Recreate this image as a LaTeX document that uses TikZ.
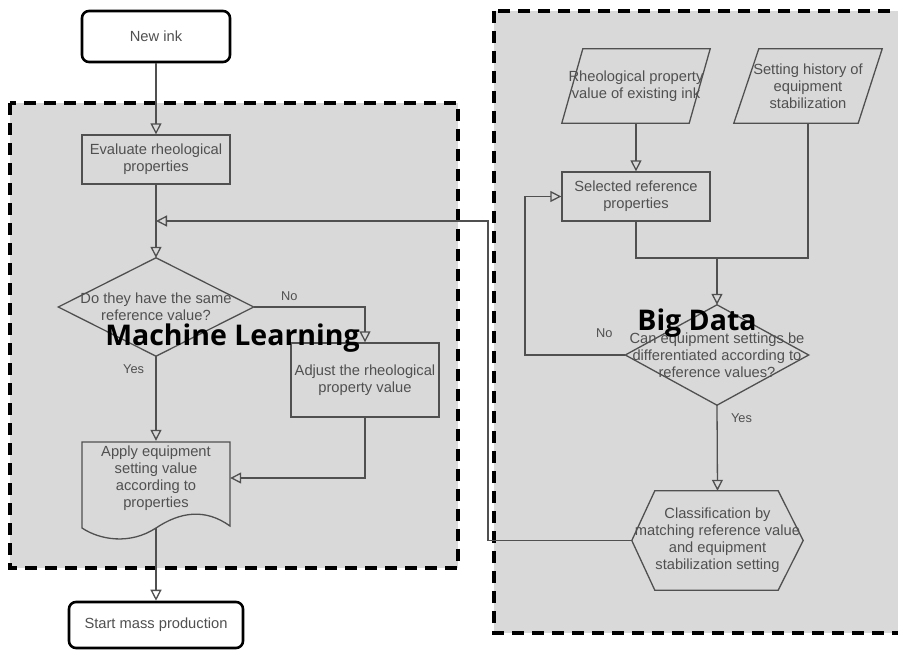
\documentclass[tikz,border=0pt]{standalone}
\usepackage{fontspec}
\setmainfont{Liberation Sans}
\newfontfamily\tagfont{Open Sans}
\usetikzlibrary{arrows.meta}
\definecolor{panelgray}{HTML}{D9D9D9}
\definecolor{linegray}{HTML}{505050}
\definecolor{textgray}{HTML}{505050}

\begin{document}
\begin{tikzpicture}[x=1pt, y=-1pt,
  panel/.style={fill=panelgray, draw=black, line width=3.2pt, dash pattern=on 12pt off 8pt},
  txt/.style={font=\fontsize{14.7}{17}\selectfont, text=textgray, align=center, inner sep=0pt},
  proc/.style={txt, draw=linegray, line width=1.3pt, minimum width=148pt, minimum height=49pt},
  term/.style={txt, draw=black, fill=white, line width=2.6pt, rounded corners=7pt},
  shapeline/.style={draw=linegray, line width=1.3pt},
  link/.style={linegray, line width=1.3pt},
  flow/.style={link, -{Triangle[open, length=11pt, width=11pt]}},
  answer/.style={font=\fontsize{12.8}{15}\selectfont, text=textgray},
  tag/.style={font=\tagfont\bfseries\fontsize{28.5}{32}\selectfont, text=black, anchor=base}]
  \useasboundingbox (0,0) rectangle (898,650);
  \clip (0,0) rectangle (898,650);

  % Panels
  \draw[panel] (10,103) rectangle (458,568);
  \draw[panel] (494,11) rectangle (910,633);

  % Machine learning side
  \node[term, minimum width=148pt, minimum height=51pt] (newink) at (156,36.5) {New ink};
  \node[proc] (evaluate) at (156,159.5) {Evaluate rheological\\properties};
  \node[txt, minimum width=195pt, minimum height=98pt] (same) at (156,307) {Do they have the same\\reference value?};
  \draw[shapeline] (same.north) -- (same.east) -- (same.south) -- (same.west) -- cycle;
  \node[proc, minimum height=74pt] (adjust) at (365,380) {Adjust the rheological\\property value};
  \node[txt, minimum width=148pt, minimum height=74pt] (apply) at (156,478) {Apply equipment\\setting value\\according to\\properties};
  \draw[shapeline] (82,528) -- (82,442) -- (230,442) -- (230,526)
    .. controls (205,508) and (180,512) .. (156,528)
    .. controls (130,545) and (100,540) .. (82,528) -- cycle;
  \coordinate (applybot) at (156,528);
  \node[term, minimum width=174pt, minimum height=46pt] (start) at (156,625) {Start mass production};

  % Big data side
  \node[txt, minimum width=148pt, minimum height=74pt] (existing) at (636,86) {Rheological property\\value of existing ink};
  \draw[shapeline] (existing.south west) -- ([xshift=21pt]existing.north west)
    -- (existing.north east) -- ([xshift=-21pt]existing.south east) -- cycle;
  \node[txt, minimum width=148pt, minimum height=74pt] (history) at (808,86) {Setting history of\\equipment\\stabilization};
  \draw[shapeline] (history.south west) -- ([xshift=25pt]history.north west)
    -- (history.north east) -- ([xshift=-24pt]history.south east) -- cycle;
  \node[proc] (selected) at (636,196.5) {Selected reference\\properties};
  \node[txt, minimum width=183pt, minimum height=100pt] (differ) at (717,355) {Can equipment settings be\\differentiated according to\\reference values?};
  \draw[shapeline] (differ.north) -- (differ.east) -- (differ.south) -- (differ.west) -- cycle;
  \node[txt, minimum width=171pt, minimum height=99pt] (classify) at (717.5,540.5) {Classification by\\matching reference value\\and equipment\\stabilization setting};
  \draw[shapeline] (classify.west) -- ([xshift=23pt]classify.north west)
    -- ([xshift=-25pt]classify.north east) -- (classify.east)
    -- ([xshift=-25pt]classify.south east) -- ([xshift=23pt]classify.south west) -- cycle;

  % Connectors
  \coordinate (merge) at (156,221);
  \coordinate (loopx) at (488,221);
  \coordinate (join) at (717,258);
  \coordinate (noback) at (525,355);
  \draw[flow] (newink) -- (evaluate);
  \draw[flow] (evaluate) -- (same);
  \draw[flow] (same.east) -| node[answer, pos=0.16, above=2pt] (no1) {No} (adjust.north);
  \draw[flow] (same.south) -- node[answer, pos=0.15, left=8pt] (yes1) {Yes} (apply.north);
  \draw[flow] (adjust.south) |- (apply.east);
  \draw[flow] (applybot) -- (start);
  \draw[flow] (existing) -- (selected);
  \draw[link] (selected.south) |- (join) -| (history.south);
  \draw[flow] (join) -- (differ.north);
  \draw[flow] (differ.west) -- node[answer, pos=0.21, above=13pt] (no2) {No} (noback) |- (selected.west);
  \draw[flow] (differ.south) -- node[answer, pos=0.15, right=10pt] (yes2) {Yes} (classify.north);
  \draw[flow] (classify.west) -| (loopx) -- (merge);

  % Panel titles
  \node[tag] (mltag) at (232.5,345) {Machine Learning};
  \node[tag] (bdtag) at (697,330) {Big Data};
\end{tikzpicture}
\end{document}
